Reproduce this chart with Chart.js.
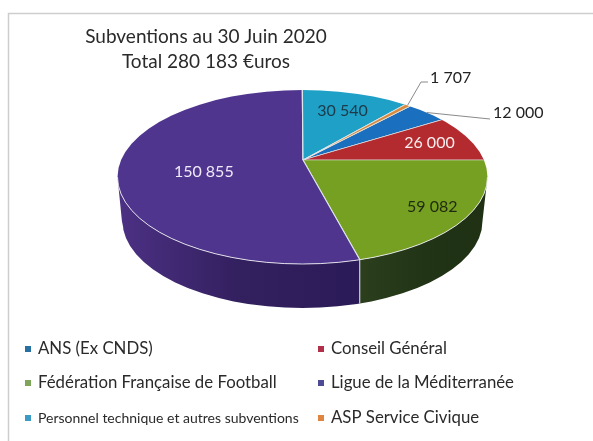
<!DOCTYPE html>
<html lang="fr">

<head>
    <meta charset="UTF-8">
    <title>Subventions au 30 Juin 2020</title>
    <script src="https://cdn.jsdelivr.net/npm/chart.js"></script>
    <style>
        html, body { margin: 0; padding: 0; background: #fff; }
        body { width: 593px; height: 441px; overflow: hidden; }
        canvas { display: block; }
    </style>
</head>

<body>
    <canvas id="pie" width="593" height="441"></canvas>
    <script>
        const categories = ['ANS (Ex CNDS)', 'Conseil Général', 'Fédération Française de Football', 'Ligue de la Méditerranée', 'Personnel technique et autres subventions', 'ASP Service Civique'];
        const amounts = [12000, 26000, 59082, 150855, 30540, 1707];
        const amountLabels = ['12 000', '26 000', '59 082', '150 855', '30 540', '1 707'];
        const titleLines = ['Subventions au 30 Juin 2020', 'Total 280 183 €uros'];

        const topColors = ['#1a6fbe', '#b32b2e', '#76a021', '#50358f', '#1fa0c6', '#d98a3c'];
        const legendColors = ['#27709f', '#b0304a', '#7fa55a', '#4f4a94', '#3a9cc4', '#e0853f'];
        const textColors = ['#222', '#fbeeee', '#1f2a10', '#efeaf8', '#1c3a4a', '#222'];

        const font = 'Lato, sans-serif';
        const squash = 0.44;                     // vertical flattening of the pie
        const oval = { x: 302.5, y: 177, rx: 185, ry: 87 };   // top face outline
        const depth = 44;

        // ray from the pie centre out to the rim of the top face, angle in canvas radians
        function rimPoint(c, a) {
            const dx = Math.cos(a), dy = Math.sin(a) * squash;
            const ox = c.x - oval.x, oy = c.y - oval.y;
            const A = dx * dx / (oval.rx * oval.rx) + dy * dy / (oval.ry * oval.ry);
            const B = 2 * (ox * dx / (oval.rx * oval.rx) + oy * dy / (oval.ry * oval.ry));
            const C = ox * ox / (oval.rx * oval.rx) + oy * oy / (oval.ry * oval.ry) - 1;
            const t = (-B + Math.sqrt(B * B - 4 * A * C)) / (2 * A);
            return { x: c.x + dx * t, y: c.y + dy * t };
        }

        function drawWall(ctx, arcs) {
            const c = arcs[0];
            ctx.save();
            ctx.beginPath();
            ctx.ellipse(oval.x, oval.y, oval.rx, oval.ry, 0, 0, Math.PI);
            ctx.lineTo(oval.x - oval.rx + 5, oval.y + depth + 6);
            ctx.ellipse(oval.x, oval.y + depth, oval.rx - 5, oval.ry, 0, Math.PI, 0, true);
            ctx.closePath();
            ctx.clip();
            const wall = {
                2: ['#2b3f1d', '#213416', '#1f3013'],
                3: ['#4d3185', '#33205f', '#2b1a58']
            };
            const seamX = rimPoint(c, arcs[3].startAngle).x;
            [[3, oval.x - oval.rx - 2, seamX], [2, seamX, oval.x + oval.rx + 2]].forEach(([i, left, right]) => {
                const g = ctx.createLinearGradient(left, 0, right, 0);
                wall[i].forEach((col, k) => g.addColorStop(k / 2, col));
                ctx.fillStyle = g;
                ctx.fillRect(left, oval.y - 10, right - left, oval.ry + depth + 30);
            });
            // seam between the two visible wall colours
            const seam = rimPoint(c, arcs[3].startAngle);
            ctx.strokeStyle = '#e6e6ea';
            ctx.lineWidth = 1;
            ctx.beginPath();
            ctx.moveTo(seam.x, seam.y);
            ctx.lineTo(seam.x, seam.y + depth);
            ctx.stroke();
            ctx.restore();
        }

        const pie3d = {
            id: 'pie3d',
            beforeDatasetsDraw(chart) {
                const ctx = chart.ctx;
                const arcs = chart.getDatasetMeta(0).data;
                drawWall(ctx, arcs);
                ctx.save();
                ctx.beginPath();
                ctx.ellipse(oval.x, oval.y, oval.rx, oval.ry, 0, 0, 2 * Math.PI);
                ctx.clip();
                ctx.translate(arcs[0].x, arcs[0].y);
                ctx.scale(1, squash);
                ctx.translate(-arcs[0].x, -arcs[0].y);
            },
            afterDatasetsDraw(chart) {
                const ctx = chart.ctx;
                const arcs = chart.getDatasetMeta(0).data;
                const c = arcs[0];
                ctx.restore();

                // pale rim along the front of the top face
                ctx.strokeStyle = 'rgba(235,235,240,0.9)';
                ctx.lineWidth = 1;
                ctx.beginPath();
                ctx.ellipse(oval.x, oval.y, oval.rx, oval.ry, 0, 0, Math.PI);
                ctx.stroke();

                // value labels inside the slices
                const inside = { 1: 132, 2: 164, 3: 100, 4: 119 };
                const nudgeY = { 1: 0, 2: 2, 3: 6, 4: 0 };
                ctx.font = '16px ' + font;
                ctx.textAlign = 'center';
                ctx.textBaseline = 'middle';
                arcs.forEach((a, i) => {
                    if (!inside[i]) return;
                    const mid = (a.startAngle + a.endAngle) / 2;
                    ctx.fillStyle = textColors[i];
                    ctx.fillText(amountLabels[i], c.x + Math.cos(mid) * inside[i], c.y + Math.sin(mid) * inside[i] * squash + nudgeY[i]);
                });

                // leader lines for the two thin slices
                const p0 = rimPoint(c, (arcs[0].startAngle + arcs[0].endAngle) / 2);
                const p5 = rimPoint(c, (arcs[5].startAngle + arcs[5].endAngle) / 2);
                ctx.strokeStyle = '#8a8a8a';
                ctx.beginPath();
                ctx.moveTo(p0.x, p0.y);
                ctx.lineTo(490, 119);
                ctx.moveTo(p5.x, p5.y);
                ctx.lineTo(421, 82);
                ctx.lineTo(428, 82);
                ctx.stroke();
                ctx.fillStyle = '#222';
                ctx.textAlign = 'left';
                ctx.fillText(amountLabels[0], 493, 113);
                ctx.fillText(amountLabels[5], 430, 78);
            },
            afterDraw(chart) {
                const ctx = chart.ctx;
                // title
                ctx.fillStyle = '#2a2a2a';
                ctx.textAlign = 'center';
                ctx.textBaseline = 'middle';
                ctx.font = '19px ' + font;
                ctx.fillText(titleLines[0], 206, 37);
                ctx.fillText(titleLines[1], 206, 62);

                // legend in two columns
                const cols = [25, 318];
                const rows = [349, 383, 418];
                ctx.textAlign = 'left';
                categories.forEach((name, i) => {
                    const x = cols[i % 2], y = rows[Math.floor(i / 2)];
                    ctx.fillStyle = legendColors[i];
                    ctx.fillRect(x, y - 3, 6, 6);
                    ctx.fillStyle = '#2a2a2a';
                    ctx.font = (i === 4 ? '14px ' : '16.8px ') + font;
                    ctx.fillText(name, x + 13, y);
                });
            }
        };

        // scanned page edge behind everything: top and left only
        const frame = {
            id: 'frame',
            beforeDraw(chart) {
                const ctx = chart.ctx;
                ctx.fillStyle = '#fff';
                ctx.fillRect(0, 0, 593, 441);
                ctx.strokeStyle = '#cdcdcd';
                ctx.lineWidth = 1.5;
                ctx.beginPath();
                ctx.moveTo(593, 13.5);
                ctx.lineTo(8.5, 13.5);
                ctx.lineTo(8.5, 441);
                ctx.stroke();
            }
        };

        new Chart(document.getElementById('pie'), {
            type: 'pie',
            data: {
                labels: categories,
                datasets: [{
                    data: amounts,
                    backgroundColor: topColors,
                    borderColor: '#dfe6ea',
                    borderWidth: 1.2,
                    radius: 260,
                    clip: false
                }]
            },
            options: {
                responsive: false,
                animation: false,
                rotation: 41.2,
                layout: { padding: { left: 13, right: 0, top: 0, bottom: 121 } },
                plugins: { legend: { display: false }, tooltip: { enabled: false } }
            },
            plugins: [frame, pie3d]
        });
    </script>
</body>

</html>
